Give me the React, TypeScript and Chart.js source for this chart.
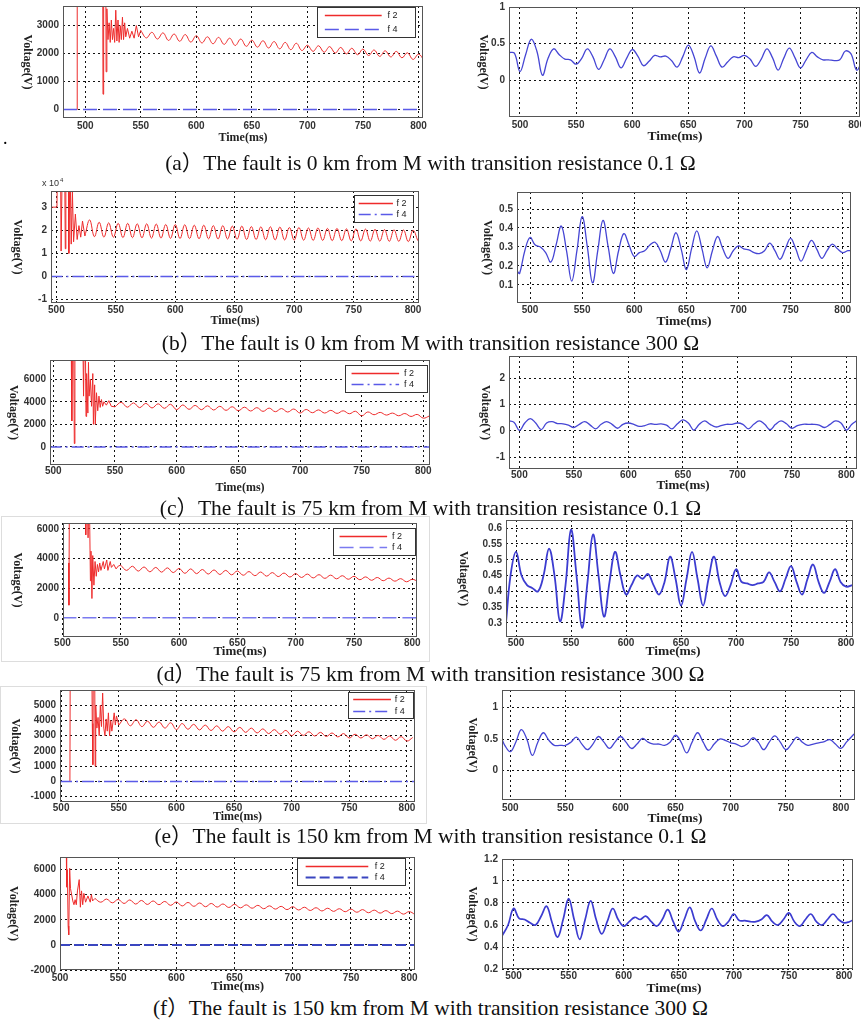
import React, { useEffect, useRef } from "react";
import { Chart, registerables } from "chart.js";
Chart.register(...registerables);

type Pt = [number, number];

const SANS = '"Liberation Sans", Arial, sans-serif';
const SERIF = '"Liberation Serif", "Times New Roman", "Noto Sans CJK SC", serif';

const xTicksMs = [500, 550, 600, 650, 700, 750, 800];
const legendLabels = ["f 2", "f 4"];
const captions = [
  "(a）The fault is 0 km from M with transition resistance 0.1 Ω",
  "(b）The fault is 0 km from M with transition resistance 300 Ω",
  "(c）The fault is 75 km from M with transition resistance 0.1 Ω",
  "(d）The fault is 75 km from M with transition resistance 300 Ω",
  "(e）The fault is 150 km from M with transition resistance 0.1 Ω",
  "(f）The fault is 150 km from M with transition resistance 300 Ω",
];

// ---------- (a) ----------
const aYTicksL = [0, 1000, 2000, 3000];
const aYTicksR = [0, 0.5, 1];
const aF2Transient: Pt[] = [[492.6,0],[492.8,9000],[515.5,9000],[516,550],[516.6,9000],[518.2,9000],[518.8,1350],[519.5,3600],[520.5,2500],[521.5,3100],[522.5,2400],[523.5,3200],[524.5,2500],[525.5,2900],[526.5,2400],[527.5,3550],[528.5,2450],[529.5,3200],[530.5,2400],[531.5,3000],[532.5,2500],[533.5,3300],[534.5,2500],[535.5,3100],[536.5,2600],[538,2900],[540,2550],[542,2800],[544,2550],[546,3000],[548,2600],[550,2830]];
const aF2Steady: Pt[] = [[550,2830],[555,2560],[560,2760],[565,2520],[570,2740],[575,2470],[580,2700],[585,2440],[590,2680],[595,2410],[600,2640],[605,2380],[610,2600],[615,2350],[620,2580],[625,2330],[630,2550],[635,2290],[640,2520],[645,2260],[650,2480],[655,2230],[660,2460],[665,2200],[670,2430],[675,2170],[680,2400],[685,2140],[690,2370],[695,2110],[700,2300],[705,2080],[710,2280],[715,2050],[720,2250],[725,2020],[730,2220],[735,1990],[740,2190],[745,1960],[750,2160],[755,1930],[760,2130],[765,1900],[770,2100],[775,1880],[780,2080],[785,1850],[790,2030],[795,1790],[800,1980],[805,1760]];
const aF4: Pt[] = [[480,0],[805,0]];
const aU: Pt[] = [[490,0.38],[495,0.37],[500,0.12],[505,0.35],[510,0.56],[515,0.40],[520,0.07],[525,0.30],[530,0.43],[535,0.35],[540,0.29],[545,0.28],[550,0.22],[555,0.30],[560,0.43],[565,0.32],[570,0.15],[575,0.28],[580,0.43],[585,0.32],[590,0.17],[595,0.30],[600,0.42],[605,0.33],[610,0.20],[615,0.26],[620,0.34],[625,0.32],[630,0.33],[635,0.27],[640,0.18],[645,0.32],[650,0.48],[655,0.33],[660,0.10],[665,0.30],[670,0.47],[675,0.33],[680,0.18],[685,0.25],[690,0.32],[695,0.31],[700,0.34],[705,0.29],[710,0.19],[715,0.29],[720,0.43],[725,0.31],[730,0.14],[735,0.30],[740,0.44],[745,0.31],[750,0.17],[755,0.28],[760,0.38],[765,0.32],[770,0.28],[775,0.28],[780,0.27],[785,0.28],[790,0.40],[795,0.36],[800,0.14],[805,0.27]];

// ---------- (b) (left values in units of 10^4 V) ----------
const bYTicksL = [-1, 0, 1, 2, 3];
const bYTicksR = [0.1, 0.2, 0.3, 0.4, 0.5];
const bF2Transient: Pt[] = [[495.5,3.0],[500.5,3.0],[501,5],[503.5,5],[504,1.1],[505,5],[507,5],[507.5,1.2],[508,5],[510,5],[510.5,1.0],[511.5,5],[512.5,1.4],[513.5,3.7],[514.5,1.5],[516,2.7],[517.5,1.6],[519,2.2],[520.5,1.7],[522,2.4],[524,1.75]];
const bF2Steady: Pt[] = [[524,1.75],[528,2.45],[532,1.72],[536,2.35],[540,1.70],[544,2.32],[548,1.70],[552,2.30],[556,1.68],[560,2.30],[564,1.68],[568,2.28],[572,1.67],[576,2.28],[580,1.66],[584,2.27],[588,1.66],[592,2.25],[596,1.65],[600,2.25],[604,1.64],[608,2.24],[612,1.64],[616,2.22],[620,1.63],[624,2.22],[628,1.63],[632,2.20],[636,1.62],[640,2.20],[644,1.62],[648,2.18],[652,1.61],[656,2.18],[660,1.60],[664,2.16],[668,1.60],[672,2.15],[676,1.59],[680,2.15],[684,1.58],[688,2.14],[692,1.58],[696,2.12],[700,1.57],[704,2.12],[708,1.57],[712,2.10],[716,1.56],[720,2.10],[724,1.56],[728,2.08],[732,1.55],[736,2.08],[740,1.55],[744,2.06],[748,1.54],[752,2.06],[756,1.54],[760,2.05],[764,1.53],[768,2.04],[772,1.53],[776,2.03],[780,1.52],[784,2.02],[788,1.52],[792,2.01],[796,1.51],[800,2.00],[804,1.55]];
const bF4: Pt[] = [[495,0],[806,0]];
const bU: Pt[] = [[488,0.17],[490,0.16],[495,0.28],[500,0.35],[505,0.31],[510,0.30],[515,0.27],[520,0.22],[525,0.31],[530,0.41],[535,0.28],[540,0.12],[545,0.28],[550,0.46],[555,0.30],[560,0.11],[565,0.28],[570,0.44],[575,0.30],[580,0.16],[585,0.28],[590,0.37],[595,0.31],[600,0.25],[605,0.27],[610,0.28],[615,0.31],[620,0.325],[625,0.28],[630,0.22],[635,0.29],[640,0.375],[645,0.29],[650,0.18],[655,0.29],[660,0.385],[665,0.29],[670,0.19],[675,0.28],[680,0.355],[685,0.29],[690,0.24],[695,0.28],[700,0.305],[705,0.29],[710,0.285],[715,0.27],[720,0.265],[725,0.28],[730,0.32],[735,0.28],[740,0.235],[745,0.29],[750,0.345],[755,0.29],[760,0.225],[765,0.28],[770,0.335],[775,0.29],[780,0.24],[785,0.28],[790,0.315],[795,0.29],[800,0.27],[805,0.28],[808,0.28]];

// ---------- (c) ----------
const cYTicksL = [0, 2000, 4000, 6000];
const cYTicksR = [-1, 0, 1, 2];
const cF2Transient: Pt[] = [[514.5,9000],[515,2300],[515.5,9000],[516.5,9000],[517,300],[517.5,9000],[524,9000],[524.5,4500],[525,9000],[526,9000],[526.5,2700],[527,6500],[528,3000],[528.5,7500],[529,4500],[530,6000],[531,3600],[532,6500],[532.5,2000],[533.5,5500],[534,2000],[535,4800],[536,3200],[537,4500],[538,3500],[539,4200],[540,3600],[541,4000],[543,3700],[545,4100],[547,3600],[550,3550]];
const cF2Steady: Pt[] = [[550,3550],[555,3950],[560,3520],[565,3900],[570,3480],[575,3860],[580,3450],[585,3820],[590,3420],[595,3780],[600,3300],[605,3720],[610,3330],[615,3680],[620,3300],[625,3640],[630,3270],[635,3600],[640,3240],[645,3560],[650,3210],[655,3520],[660,3180],[665,3480],[670,3150],[675,3440],[680,3120],[685,3400],[690,3090],[695,3360],[700,3000],[705,3320],[710,3030],[715,3280],[720,3000],[725,3240],[730,2970],[735,3200],[740,2940],[745,3160],[750,2750],[755,3100],[760,2850],[765,3060],[770,2820],[775,3000],[780,2760],[785,2960],[790,2700],[795,2880],[800,2550],[805,2750]];
const cF4: Pt[] = [[497,0],[806,0]];
const cU: Pt[] = [[490,0.38],[495,0.33],[500,0.02],[505,0.30],[510,0.47],[515,0.30],[520,0.05],[525,0.30],[530,0.35],[535,0.28],[540,0.27],[545,0.22],[550,0.13],[555,0.25],[560,0.35],[565,0.22],[570,0.08],[575,0.25],[580,0.35],[585,0.25],[590,0.10],[595,0.25],[600,0.30],[605,0.25],[610,0.17],[615,0.20],[620,0.27],[625,0.25],[630,0.27],[635,0.22],[640,0.08],[645,0.27],[650,0.42],[655,0.30],[660,0.03],[665,0.25],[670,0.38],[675,0.25],[680,0.15],[685,0.20],[690,0.25],[695,0.25],[700,0.30],[705,0.25],[710,0.08],[715,0.25],[720,0.38],[725,0.25],[730,0.05],[735,0.25],[740,0.38],[745,0.27],[750,0.10],[755,0.20],[760,0.25],[765,0.25],[770,0.25],[775,0.22],[780,0.13],[785,0.25],[790,0.38],[795,0.30],[800,0.03],[805,0.25],[810,0.40]];

// ---------- (d) ----------
const dYTicksL = [0, 2000, 4000, 6000];
const dYTicksR = [0.3, 0.35, 0.4, 0.45, 0.5, 0.55, 0.6];
const dF2Transient: Pt[] = [[505.3,3700],[505.6,850],[506,9000],[519.5,9000],[520,5600],[521,9000],[522,5400],[523,9000],[524,2500],[524.5,4500],[525.3,1300],[526,4200],[527,2200],[528,3800],[529,2800],[530,3600],[531,3100],[532,3700],[533,3200],[535,3800],[536,3300],[538,3900],[539,3200],[541,3800],[542,3400],[544,3600],[546,3300],[548,3500],[550,3550]];
const dF2Steady: Pt[] = [[550,3550],[555,3200],[560,3480],[565,3150],[570,3430],[575,3100],[580,3400],[585,3080],[590,3370],[595,3050],[600,3330],[605,3000],[610,3300],[615,2980],[620,3260],[625,2950],[630,3230],[635,2920],[640,3200],[645,2900],[650,3160],[655,2870],[660,3120],[665,2840],[670,3090],[675,2810],[680,3050],[685,2780],[690,3020],[695,2750],[700,2980],[705,2720],[710,2950],[715,2690],[720,2910],[725,2660],[730,2880],[735,2630],[740,2840],[745,2600],[750,2800],[755,2570],[760,2760],[765,2530],[770,2720],[775,2500],[780,2680],[785,2470],[790,2640],[795,2430],[800,2600],[805,2420]];
const dF4: Pt[] = [[500,0],[805,0]];
const dU: Pt[] = [[490.9,0.30],[495,0.45],[500,0.525],[505,0.45],[510,0.42],[515,0.41],[520,0.40],[525,0.45],[530,0.535],[535,0.45],[540,0.305],[545,0.42],[550,0.595],[555,0.45],[560,0.285],[565,0.43],[570,0.58],[575,0.45],[580,0.32],[585,0.43],[590,0.525],[595,0.45],[600,0.39],[605,0.42],[610,0.45],[615,0.44],[620,0.455],[625,0.42],[630,0.39],[635,0.43],[640,0.51],[645,0.44],[650,0.355],[655,0.44],[660,0.525],[665,0.44],[670,0.355],[675,0.44],[680,0.51],[685,0.43],[690,0.385],[695,0.42],[700,0.47],[705,0.43],[710,0.425],[715,0.42],[720,0.425],[725,0.43],[730,0.46],[735,0.43],[740,0.40],[745,0.44],[750,0.48],[755,0.43],[760,0.39],[765,0.44],[770,0.485],[775,0.43],[780,0.395],[785,0.43],[790,0.47],[795,0.43],[800,0.415],[806,0.42]];

// ---------- (e) ----------
const eYTicksL = [-1000, 0, 1000, 2000, 3000, 4000, 5000];
const eYTicksR = [0, 0.5, 1];
const eF2Transient: Pt[] = [[507.6,0],[507.9,9000],[526.5,9000],[527,3800],[527.5,1100],[528,9000],[529,9000],[529.5,1000],[530,5000],[531,3500],[532,4200],[533,3000],[534,5000],[535,3600],[536,5800],[537,3500],[538,3000],[539,4100],[540,3300],[541,4500],[542,3000],[543,4000],[544,3300],[546,4500],[547,3700],[548,4300],[550,3700]];
const eF2Steady: Pt[] = [[550,3700],[555,4100],[560,3650],[565,4050],[570,3600],[575,3950],[580,3550],[585,3900],[590,3500],[595,3850],[600,3400],[605,3800],[610,3420],[615,3750],[620,3380],[625,3700],[630,3340],[635,3650],[640,3300],[645,3600],[650,3250],[655,3550],[660,3220],[665,3500],[670,3180],[675,3450],[680,3140],[685,3400],[690,3100],[695,3350],[700,3000],[705,3300],[710,3020],[715,3260],[720,2980],[725,3220],[730,2950],[735,3180],[740,2920],[745,3140],[750,2850],[755,3100],[760,2850],[765,3060],[770,2800],[775,3020],[780,2760],[785,2980],[790,2700],[795,2940],[800,2650],[805,2880]];
const eF4: Pt[] = [[499,0],[808,0]];
const eU: Pt[] = [[492.5,0.50],[495,0.40],[500,0.30],[505,0.45],[510,0.65],[515,0.50],[520,0.24],[525,0.45],[530,0.60],[535,0.48],[540,0.40],[545,0.40],[550,0.40],[555,0.45],[560,0.53],[565,0.42],[570,0.33],[575,0.42],[580,0.54],[585,0.45],[590,0.35],[595,0.45],[600,0.54],[605,0.45],[610,0.35],[615,0.42],[620,0.51],[625,0.45],[630,0.42],[635,0.42],[640,0.40],[645,0.45],[650,0.56],[655,0.45],[660,0.28],[665,0.45],[670,0.60],[675,0.45],[680,0.32],[685,0.42],[690,0.50],[695,0.48],[700,0.44],[705,0.42],[710,0.38],[715,0.42],[720,0.52],[725,0.45],[730,0.33],[735,0.45],[740,0.55],[745,0.45],[750,0.33],[755,0.42],[760,0.53],[765,0.45],[770,0.40],[775,0.42],[780,0.44],[785,0.46],[790,0.49],[795,0.42],[800,0.35],[805,0.45],[812,0.58]];

// ---------- (f) ----------
const fYTicksL = [-2000, 0, 2000, 4000, 6000];
const fYTicksR = [0.2, 0.4, 0.6, 0.8, 1, 1.2];
const fF2Transient: Pt[] = [[505.3,9000],[505.7,4600],[506.3,6000],[507,1500],[507.5,800],[508.3,6100],[509,4500],[510,4000],[511,3500],[512,3200],[513,3600],[514,3200],[515,4300],[516.5,5200],[517.5,3000],[518.5,4300],[519.5,3200],[520.5,4100],[522,3400],[524,3900],[526,3400],[527,4000],[528,3500],[530,3700]];
const fF2Steady: Pt[] = [[530,3700],[535,3400],[540,3650],[545,3350],[550,3620],[555,3300],[560,3580],[565,3250],[570,3540],[575,3220],[580,3500],[585,3200],[590,3460],[595,3150],[600,3420],[605,3100],[610,3380],[615,3070],[620,3340],[625,3040],[630,3300],[635,3010],[640,3260],[645,2980],[650,3230],[655,2950],[660,3190],[665,2920],[670,3150],[675,2880],[680,3110],[685,2850],[690,3070],[695,2810],[700,3040],[705,2780],[710,3000],[715,2740],[720,2960],[725,2700],[730,2920],[735,2670],[740,2880],[745,2640],[750,2850],[755,2600],[760,2810],[765,2560],[770,2770],[775,2530],[780,2730],[785,2490],[790,2690],[795,2450],[800,2650],[805,2420]];
const fF4: Pt[] = [[500,0],[806,0]];
const fU: Pt[] = [[489.5,0.50],[495,0.60],[500,0.75],[505,0.66],[510,0.65],[515,0.62],[520,0.60],[525,0.68],[530,0.77],[535,0.62],[540,0.49],[545,0.65],[550,0.84],[555,0.65],[560,0.47],[565,0.65],[570,0.82],[575,0.65],[580,0.52],[585,0.63],[590,0.75],[595,0.65],[600,0.59],[605,0.63],[610,0.67],[615,0.65],[620,0.68],[625,0.63],[630,0.59],[635,0.65],[640,0.74],[645,0.63],[650,0.54],[655,0.65],[660,0.76],[665,0.63],[670,0.55],[675,0.65],[680,0.75],[685,0.65],[690,0.59],[695,0.63],[700,0.70],[705,0.64],[710,0.64],[715,0.63],[720,0.63],[725,0.65],[730,0.69],[735,0.63],[740,0.60],[745,0.65],[750,0.71],[755,0.63],[760,0.59],[765,0.65],[770,0.70],[775,0.63],[780,0.60],[785,0.65],[790,0.70],[795,0.65],[800,0.62],[805,0.63],[809,0.65]];

// ---------- styling ----------
const RED = "#ee2b2b";
const BLUE_F4 = "#5a5ae8";
const BLUE_U = "#4646d4";
const DASH = [14, 6];
const DASHDOT = [12, 4, 2, 4];

type Series = { data: Pt[]; color: string; width: number; dash?: number[]; tension: number };
type Spec = {
  box: [number, number, number, number];
  plot: [number, number, number, number];
  xRange: [number, number];
  yRange: [number, number];
  yTicks: number[];
  series: Series[];
  ylabelX: number;
  xlabelY: number;
  xlabelX?: number;
  xTickPad: number;
  legend?: [number, number, number, number];
  legendDash?: number[];
  exponent?: [number, number];
  tickSize?: number;
  xlabelSize?: number;
  ylabelSize?: number;
};

function leftSeries(tr: Pt[], st: Pt[], f4: Pt[], dash: number[], f4Color = BLUE_F4, f4Width = 1.5): Series[] {
  return [
    { data: f4, color: f4Color, width: f4Width, dash, tension: 0 },
    { data: tr, color: RED, width: 1, tension: 0 },
    { data: st, color: RED, width: 1, tension: 0.4 },
  ];
}
function rightSeries(u: Pt[], color = BLUE_U, width = 1.3): Series[] {
  return [{ data: u, color, width, tension: 0.4 }];
}

const LB = 432;
const RX = 430;
const RW = 431;

const specs: Spec[] = [
  // (a)
  { box: [0, 0, LB, 145], plot: [63, 6, 423, 118], xRange: [480, 804], yRange: [-300, 3700], yTicks: aYTicksL, xTickPad: 2,
    series: leftSeries(aF2Transient, aF2Steady, aF4, DASH), ylabelX: 27, xlabelY: 137.5, legend: [317, 7, 98, 30], legendDash: DASH },
  { box: [RX, 0, RW, 145], plot: [509, 7, 860, 117], xRange: [490.2, 803], yRange: [-0.5, 1.0], yTicks: aYTicksR, xTickPad: 2,
    series: rightSeries(aU), ylabelX: 483, xlabelY: 136.5, xlabelX: 675, xlabelSize: 13.5 },
  // (b)
  { box: [0, 175, LB, 155], plot: [51, 191, 419, 303], xRange: [495.5, 805], yRange: [-1.15, 3.7], yTicks: bYTicksL, xTickPad: 1,
    series: leftSeries(bF2Transient, bF2Steady, bF4, DASHDOT), ylabelX: 17, xlabelY: 321, legend: [354, 195, 59, 27], legendDash: DASHDOT, exponent: [42, 184] },
  { box: [RX, 175, RW, 155], plot: [517, 192, 851, 303], xRange: [487.5, 808], yRange: [0.004, 0.59], yTicks: bYTicksR, xTickPad: 1,
    series: rightSeries(bU), ylabelX: 487, xlabelY: 322, xlabelSize: 13.5 },
  // (c)
  { box: [0, 350, LB, 148], plot: [50, 360, 430, 465], xRange: [497.3, 805.4], yRange: [-1600, 7700], yTicks: cYTicksL, xTickPad: 0,
    series: leftSeries(cF2Transient, cF2Steady, cF4, DASHDOT), ylabelX: 13, xlabelY: 488, legend: [345, 365, 82, 27], legendDash: DASHDOT },
  { box: [RX, 350, RW, 148], plot: [509, 356, 857, 469], xRange: [490.5, 809.7], yRange: [-1.45, 2.85], yTicks: cYTicksR, xTickPad: 0,
    series: rightSeries(cU), ylabelX: 485, xlabelY: 486, xlabelSize: 13 },
  // (d)
  { box: [0, 515, LB, 145], plot: [63, 523, 417, 637], xRange: [500.5, 804], yRange: [-1300, 6400], yTicks: dYTicksL, xTickPad: 0,
    series: leftSeries(dF2Transient, dF2Steady, dF4, DASH, "#7a7af0", 1.5), ylabelX: 17, xlabelY: 652, legend: [333, 528, 82, 27], legendDash: DASH, xlabelSize: 13 },
  { box: [RX, 515, RW, 145], plot: [506, 520, 853, 637], xRange: [490.9, 806.3], yRange: [0.2555, 0.626], yTicks: dYTicksR, xTickPad: 0,
    series: rightSeries(dU, "#3c3cd0", 1.8), ylabelX: 463, xlabelY: 652, xlabelX: 673, xlabelSize: 13.5 },
  // (e)
  { box: [0, 685, LB, 140], plot: [60, 690, 415, 802], xRange: [499, 807], yRange: [-1350, 6000], yTicks: eYTicksL, xTickPad: 0,
    series: leftSeries(eF2Transient, eF2Steady, eF4, DASHDOT), ylabelX: 15, xlabelY: 817, legend: [348, 692, 65, 26], legendDash: DASHDOT },
  { box: [RX, 685, RW, 140], plot: [502, 690, 855, 800], xRange: [492.5, 812.8], yRange: [-0.47, 1.28], yTicks: eYTicksR, xTickPad: 2,
    series: rightSeries(eU), ylabelX: 472, xlabelY: 819, xlabelX: 675, xlabelSize: 13.5 },
  // (f)
  { box: [0, 850, LB, 145], plot: [60, 857, 415, 970], xRange: [500, 805], yRange: [-2000, 7000], yTicks: fYTicksL, xTickPad: 2,
    series: leftSeries(fF2Transient, fF2Steady, fF4, [10, 4], "#3a46c0", 2), ylabelX: 13, xlabelY: 987, legend: [297, 858, 108, 27], legendDash: [10, 4], xlabelSize: 13 },
  { box: [RX, 850, RW, 145], plot: [502, 859, 853, 969], xRange: [489.5, 808.2], yRange: [0.2, 1.2], yTicks: fYTicksR, xTickPad: 1,
    series: rightSeries(fU, "#3c3cd0", 1.7), ylabelX: 472, xlabelY: 989, xlabelX: 674, xlabelSize: 13.5 },
];

const captionY = [163, 343, 508, 674, 836, 1008];

function makeOverlay(spec: Spec) {
  return {
    id: "overlay",
    afterDraw(chart: any) {
      const { ctx, chartArea: a } = chart;
      const [bx, by] = spec.box;
      ctx.save();
      ctx.setLineDash([]);
      ctx.strokeStyle = "#555";
      ctx.lineWidth = 1;
      ctx.strokeRect(Math.round(a.left) + 0.5, Math.round(a.top) + 0.5, Math.round(a.right - a.left) - 1, Math.round(a.bottom - a.top) - 1);

      ctx.fillStyle = "#222";
      ctx.textAlign = "center";
      ctx.textBaseline = "middle";
      ctx.font = `bold ${spec.xlabelSize ?? 12}px ${SERIF}`;
      const xlx = spec.xlabelX !== undefined ? spec.xlabelX - bx : (a.left + a.right) / 2;
      ctx.fillText("Time(ms)", xlx, spec.xlabelY - by);

      ctx.save();
      ctx.translate(spec.ylabelX - bx, (a.top + a.bottom) / 2);
      ctx.rotate(Math.PI / 2);
      ctx.font = `bold ${spec.ylabelSize ?? 12}px ${SERIF}`;
      ctx.fillText("Voltage(V)", 0, 0);
      ctx.restore();

      if (spec.legend) {
        const [lx, ly, lw, lh] = spec.legend;
        const x = lx - bx;
        const y = ly - by;
        ctx.fillStyle = "#fff";
        ctx.fillRect(x, y, lw, lh);
        ctx.strokeStyle = "#333";
        ctx.lineWidth = 1;
        ctx.strokeRect(Math.round(x) + 0.5, Math.round(y) + 0.5, Math.round(lw), Math.round(lh));
        const f4s = spec.series[0];
        const rows = [
          { label: legendLabels[0], color: RED, width: 1.3, dash: [] as number[] },
          { label: legendLabels[1], color: f4s.color, width: f4s.width, dash: spec.legendDash ?? [] },
        ];
        rows.forEach((r, i) => {
          const yy = Math.round(y + lh * (i === 0 ? 0.28 : 0.72)) + 0.5;
          ctx.save();
          ctx.beginPath();
          ctx.strokeStyle = r.color;
          ctx.lineWidth = r.width;
          ctx.setLineDash(r.dash);
          ctx.moveTo(x + lw * 0.08, yy);
          ctx.lineTo(x + lw * 0.66, yy);
          ctx.stroke();
          ctx.restore();
          ctx.fillStyle = "#222";
          ctx.textAlign = "left";
          ctx.font = `9px ${SANS}`;
          ctx.fillText(r.label, x + lw * 0.72, yy);
        });
      }

      if (spec.exponent) {
        const [ex, ey] = spec.exponent;
        ctx.fillStyle = "#333";
        ctx.textAlign = "left";
        ctx.font = `9px ${SANS}`;
        ctx.fillText("x 10", ex - bx, ey - by);
        ctx.font = `6px ${SANS}`;
        ctx.fillText("4", ex - bx + 18, ey - by - 4);
      }
      ctx.restore();
    },
  };
}

function Panel({ spec }: { spec: Spec }) {
  const ref = useRef<HTMLCanvasElement>(null);
  useEffect(() => {
    const [bx, by, bw, bh] = spec.box;
    const [pl, pt, pr, pb] = spec.plot;
    const tickFont = { family: SANS, size: spec.tickSize ?? 10, weight: "bold" as const };
    const chart = new Chart(ref.current!, {
      type: "line",
      data: {
        datasets: spec.series.map((s) => ({
          data: s.data.map(([x, y]) => ({ x, y })),
          borderColor: s.color,
          borderWidth: s.width,
          borderDash: s.dash ?? [],
          tension: s.tension,
          pointRadius: 0,
          fill: false,
        })),
      },
      options: {
        responsive: false,
        animation: false,
        events: [],
        layout: { padding: { left: 0, top: pt - by, right: bx + bw - pr, bottom: 0 } },
        plugins: { legend: { display: false }, tooltip: { enabled: false } },
        scales: {
          x: {
            type: "linear",
            min: spec.xRange[0],
            max: spec.xRange[1],
            afterBuildTicks: (s: any) => { s.ticks = xTicksMs.map((v) => ({ value: v })); },
            afterFit: (s: any) => { s.height = by + bh - pb; s.paddingLeft = 0; s.paddingRight = 0; },
            ticks: { font: tickFont, color: "#333", padding: spec.xTickPad, maxRotation: 0, autoSkip: false, callback: (v: any) => String(v) },
            grid: { color: "#111", lineWidth: 1, drawTicks: false },
            border: { display: false, dash: [2, 3] },
          },
          y: {
            type: "linear",
            min: spec.yRange[0],
            max: spec.yRange[1],
            afterBuildTicks: (s: any) => { s.ticks = spec.yTicks.map((v) => ({ value: v })); },
            afterFit: (s: any) => { s.width = pl - bx; s.paddingTop = 0; s.paddingBottom = 0; },
            ticks: { font: tickFont, color: "#333", padding: 4, autoSkip: false, callback: (v: any) => String(v) },
            grid: { color: "#111", lineWidth: 1, drawTicks: false },
            border: { display: false, dash: [2, 3] },
          },
        },
      },
      plugins: [makeOverlay(spec)],
    } as any);
    return () => chart.destroy();
  }, [spec]);
  const [bx, by, bw, bh] = spec.box;
  return (
    <canvas
      ref={ref}
      width={bw}
      height={bh}
      style={{ position: "absolute", left: bx, top: by, width: bw, height: bh }}
    />
  );
}

export default function App() {
  return (
    <div style={{ position: "absolute", left: 0, top: 0, width: 861, height: 1025, background: "#fff", overflow: "hidden" }}>
      <div style={{ position: "absolute", left: 1, top: 516, width: 427, height: 144, border: "1px solid #ddd" }} />
      <div style={{ position: "absolute", left: 0, top: 686, width: 425, height: 136, border: "1px solid #ddd" }} />
      {specs.map((s, i) => (
        <Panel key={i} spec={s} />
      ))}
      {captions.map((c, i) => (
        <div
          key={"c" + i}
          style={{
            position: "absolute",
            left: 0,
            width: 861,
            top: captionY[i] - 13,
            height: 26,
            lineHeight: "26px",
            textAlign: "center",
            fontFamily: SERIF,
            fontSize: 21.5,
            color: "#111",
            whiteSpace: "nowrap",
          }}
        >
          {c}
        </div>
      ))}
      <div style={{ position: "absolute", left: 3, top: 128, fontFamily: SERIF, fontSize: 18 }}>.</div>
    </div>
  );
}
